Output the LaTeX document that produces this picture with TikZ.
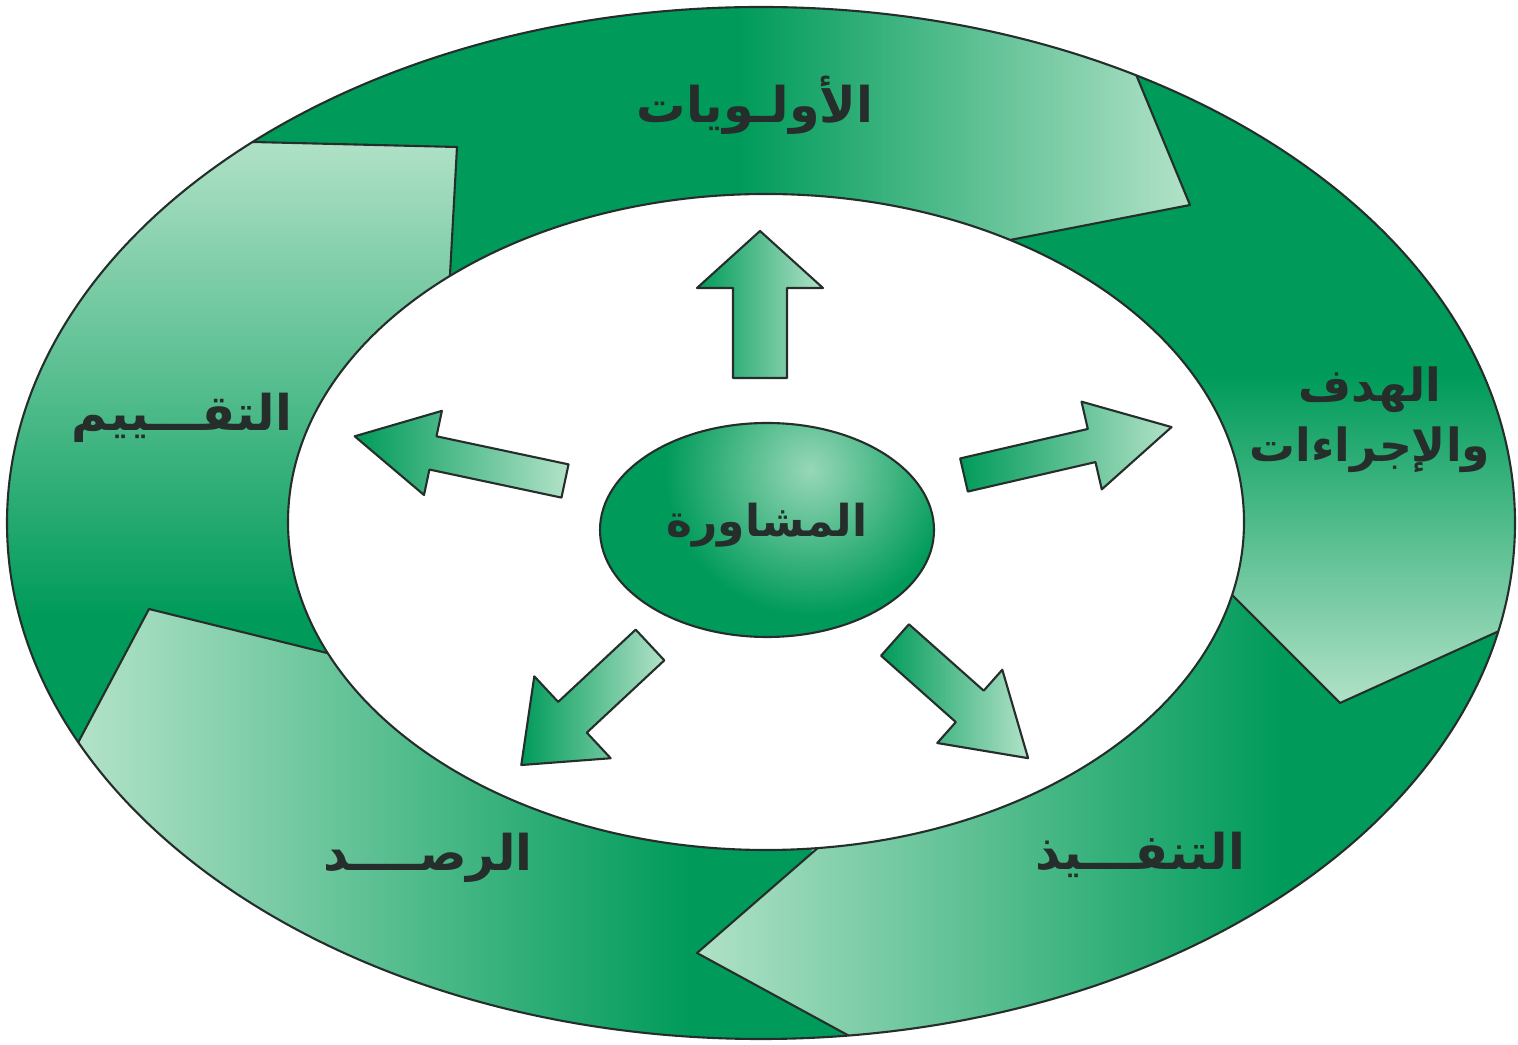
\documentclass[tikz,border=0pt]{standalone}
\usepackage{fontspec}
\newfontfamily\arabicfont[Script=Arabic]{DejaVu Sans}
\TeXXeTstate=1
\usetikzlibrary{calc}
\definecolor{dkgreen}{RGB}{0,155,90}
\definecolor{ltgreen}{RGB}{178,226,200}
\definecolor{inkgray}{RGB}{38,46,43}
\tikzset{
  edge/.style={draw=inkgray, line width=0.6pt, line join=round},
  arlabel/.style={font=\arabicfont\bfseries\fontsize{14}{19}\selectfont, text=inkgray, align=center},
  arrowfill/.style={edge, left color=dkgreen, right color=ltgreen}
}

\begin{document}
\begin{tikzpicture}
  \useasboundingbox (0,0) rectangle (15.18,10.45);
  % Cuts in the ring: outer point, tip, inner point
  \coordinate (c) at (7.61,5.22);
  \coordinate (o1) at (11.35,9.73); \coordinate (t1) at (11.90,8.40); \coordinate (i1) at (10.10,8.05);
  \coordinate (o2) at (15.08,4.18); \coordinate (t2) at (13.40,3.42); \coordinate (i2) at (12.35,4.47);
  \coordinate (o3) at (8.53,0.07);  \coordinate (t3) at (6.97,0.92);  \coordinate (i3) at (8.12,1.92);
  \coordinate (o4) at (0.80,3.06);  \coordinate (t4) at (1.49,4.36);  \coordinate (i4) at (3.27,3.92);
  \coordinate (o5) at (2.53,9.03);  \coordinate (t5) at (4.57,8.98);  \coordinate (i5) at (4.50,7.70);
  % Ring
  \begin{scope}
    \clip (c) ellipse [x radius=7.54, y radius=5.16];
    \fill[dkgreen] (c) ellipse [x radius=7.54, y radius=5.16];
    \begin{scope}
      \clip (c) -- (i5) -- (t5) -- (o5) -- ($(c)!3!(o5)$) -- (7.6,20.7) -- ($(c)!3!(o1)$) -- (o1) -- (t1) -- (i1) -- cycle;
      \shade[left color=dkgreen, right color=ltgreen] (7.4,7) rectangle (11.9,10.45);
    \end{scope}
    \begin{scope}
      \clip (c) -- (i1) -- (t1) -- (o1) -- ($(c)!3!(o1)$) -- (28.9,10.5) -- ($(c)!3!(o2)$) -- (o2) -- (t2) -- (i2) -- cycle;
      \shade[top color=dkgreen, bottom color=ltgreen] (10,6.7) rectangle (15.18,3.4);
    \end{scope}
    \begin{scope}
      \clip (c) -- (i2) -- (t2) -- (o2) -- ($(c)!3!(o2)$) -- (23.6,-5.7) -- ($(c)!3!(o3)$) -- (o3) -- (t3) -- (i3) -- cycle;
      \shade[left color=ltgreen, right color=dkgreen] (6.9,0) rectangle (12.8,4.8);
    \end{scope}
    \begin{scope}
      \clip (c) -- (i3) -- (t3) -- (o3) -- ($(c)!3!(o3)$) -- (-4,-8) -- ($(c)!3!(o4)$) -- (o4) -- (t4) -- (i4) -- cycle;
      \shade[left color=ltgreen, right color=dkgreen] (0.8,0) rectangle (6.9,4.5);
    \end{scope}
    \begin{scope}
      \clip (c) -- (i4) -- (t4) -- (o4) -- ($(c)!3!(o4)$) -- (-14.7,7.9) -- ($(c)!3!(o5)$) -- (o5) -- (t5) -- (i5) -- cycle;
      \shade[bottom color=dkgreen, top color=ltgreen] (0,4.3) rectangle (4.6,9.1);
    \end{scope}
    \foreach \k in {1,...,5}
      \draw[edge] ($(t\k)!1.25!(i\k)$) -- (t\k) -- ($(t\k)!1.25!(o\k)$);
  \end{scope}
  \fill[white] (7.66,5.23) ellipse [x radius=4.78, y radius=3.28];
  \draw[edge] (7.66,5.23) ellipse [x radius=4.78, y radius=3.28];
  \draw[edge] (c) ellipse [x radius=7.54, y radius=5.16];
  % Centre
  \begin{scope}
    \clip (7.67,5.15) ellipse [x radius=1.67, y radius=1.07];
    \fill[dkgreen] (7.67,5.15) ellipse [x radius=1.67, y radius=1.07];
    \shade[inner color=ltgreen!85!dkgreen, outer color=dkgreen] (8.1,5.75) circle (1.45);
  \end{scope}
  \draw[edge] (7.67,5.15) ellipse [x radius=1.67, y radius=1.07];
  % Arrows
  \begin{scope}[shift={(7.60,6.67)}, rotate=90]
    \shade[arrowfill] (0,-0.27) -- (0.90,-0.27) -- (0.90,-0.63) -- (1.47,0) -- (0.90,0.63) -- (0.90,0.27) -- (0,0.27) -- cycle;
  \end{scope}
  \begin{scope}[shift={(9.64,5.70)}, rotate=13]
    \shade[arrowfill] (0,-0.17) -- (1.31,-0.17) -- (1.31,-0.45) -- (2.13,0) -- (1.31,0.45) -- (1.31,0.17) -- (0,0.17) -- cycle;
  \end{scope}
  \begin{scope}[shift={(5.65,5.64)}, rotate=168]
    \shade[arrowfill] (0,-0.17) -- (1.35,-0.17) -- (1.35,-0.43) -- (2.15,0) -- (1.35,0.43) -- (1.35,0.17) -- (0,0.17) -- cycle;
  \end{scope}
  \begin{scope}[shift={(6.50,4.00)}, rotate=223]
    \shade[arrowfill] (0,-0.21) -- (1.06,-0.21) -- (1.06,-0.56) -- (1.76,0) -- (1.06,0.56) -- (1.06,0.21) -- (0,0.21) -- cycle;
  \end{scope}
  \begin{scope}[shift={(8.95,4.05)}, rotate=-41.6]
    \shade[arrowfill] (0,-0.21) -- (1.00,-0.21) -- (1.00,-0.49) -- (1.78,0) -- (1.00,0.49) -- (1.00,0.21) -- (0,0.21) -- cycle;
  \end{scope}
  % Labels
  \node[arlabel, font=\arabicfont\bfseries\fontsize{12.5}{16}\selectfont] (consult) at (7.67,5.20) {\beginR المشاورة\endR};
  \node[arlabel] (prio) at (7.55,9.40) {\beginR الأولـويات\endR};
  \node[arlabel, font=\arabicfont\bfseries\fontsize{13}{17}\selectfont] (goal) at (13.70,6.25) {\beginR الهدف\endR\\\beginR والإجراءات\endR};
  \node[arlabel] (exec) at (11.40,1.90) {\beginR التنفـــيذ\endR};
  \node[arlabel] (watch) at (4.28,1.87) {\beginR الرصــــد\endR};
  \node[arlabel] (assess) at (1.82,6.27) {\beginR التقـــييم\endR};
\end{tikzpicture}
\end{document}
